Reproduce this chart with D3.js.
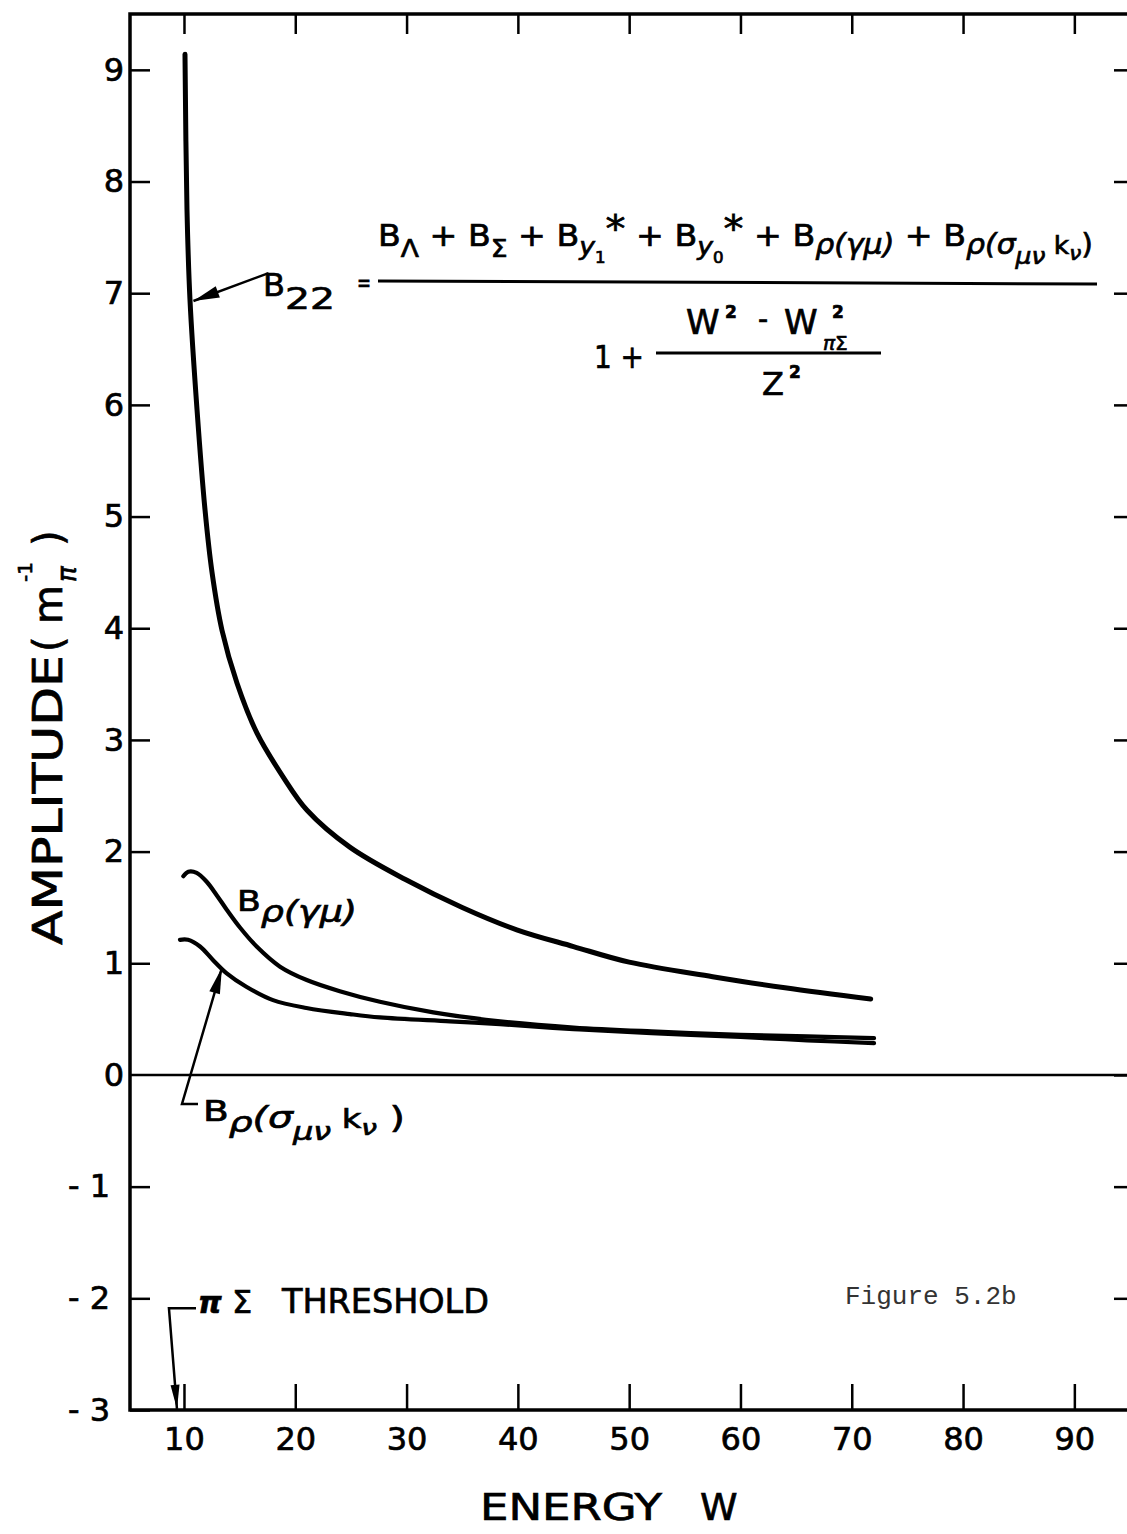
<!DOCTYPE html>
<html>
<head>
<meta charset="utf-8">
<script src="https://cdn.jsdelivr.net/npm/d3@7"></script>
<style>
  body { margin: 0; background: #fff; }
  svg { display: block; }
  text { font-family: "DejaVu Sans", sans-serif; fill: #000; stroke: #000; stroke-width: 0.7px; }
  text.typed { font-family: "Liberation Mono", monospace; fill: #333; stroke: none; }
</style>
</head>
<body>
<div id="chart"></div>
<script>
// tick values
const xTicks = [10, 20, 30, 40, 50, 60, 70, 80, 90];
const yTicks = [-3, -2, -1, 0, 1, 2, 3, 4, 5, 6, 7, 8, 9];

// B22 (energy W, amplitude)
const b22W = [10.09, 10.27, 10.54, 11.17, 11.89, 12.52, 13.42, 14.76, 16.56, 18.9, 21.06, 24.9, 29.9, 35, 39.9, 45, 50, 57.5, 64, 71.7];
const b22A = [9.14, 7.75, 6.94, 5.96, 5.06, 4.5, 3.98, 3.51, 3.06, 2.67, 2.37, 2.04, 1.75, 1.50, 1.30, 1.15, 1.01, 0.88, 0.78, 0.68];

// B rho (gamma mu)
const gmW = [9.94, 10.39, 11.14, 12.04, 12.94, 13.84, 15.03, 16.53, 18.63, 21.03, 24.0, 27.6, 32.4, 38.4, 45, 52, 60, 66, 72];
const gmA = [1.78, 1.82, 1.81, 1.73, 1.61, 1.48, 1.32, 1.15, 0.97, 0.85, 0.75, 0.655, 0.56, 0.48, 0.425, 0.39, 0.36, 0.345, 0.33];

// B rho (sigma_mu_nu k_nu)
const skW = [9.64, 10.36, 11.44, 12.6, 13.84, 15.6, 18.0, 21.0, 24.9, 27.6, 33.9, 38.4, 45, 52, 60, 66, 72];
const skA = [1.21, 1.21, 1.15, 1.03, 0.91, 0.79, 0.67, 0.60, 0.545, 0.515, 0.48, 0.455, 0.41, 0.375, 0.34, 0.31, 0.285];

const margin = { top: 14, left: 130 };
const width = 1000, height = 1396;

const svg = d3.select("#chart").append("svg")
  .attr("width", 1127)
  .attr("height", 1534);

const main = svg.append("g")
  .attr("transform", "translate(" + margin.left + "," + margin.top + ")");

const x = d3.scaleLinear().domain([5.15, 95.0]).range([0, width]);
const y = d3.scaleLinear().domain([-3, 9.5]).range([height, 0]);

const fmt = d => d < 0 ? "- " + Math.abs(d) : String(d);

// axes, ticks pointing inward
const xBottom = main.append("g")
  .attr("transform", "translate(0," + height + ")")
  .call(d3.axisBottom(x).tickValues(xTicks).tickSizeInner(-26).tickSizeOuter(0).tickPadding(17));
const yLeft = main.append("g")
  .call(d3.axisLeft(y).tickValues(yTicks).tickFormat(fmt).tickSizeInner(-20).tickSizeOuter(0).tickPadding(8));
main.append("g")
  .call(d3.axisTop(x).tickValues(xTicks).tickFormat("").tickSizeInner(-20).tickSizeOuter(0));
main.append("g")
  .attr("transform", "translate(" + width + ",0)")
  .call(d3.axisRight(y).tickValues(yTicks.filter(d => d > -3)).tickFormat("").tickSizeInner(-16).tickSizeOuter(0));

main.selectAll(".domain").remove();
main.selectAll(".tick line").attr("stroke", "#000").attr("stroke-width", 2.5);
xBottom.selectAll("text").attr("font-size", 32).attr("font-family", null).attr("fill", null);
yLeft.selectAll("text").attr("font-size", 32).attr("font-family", null).attr("fill", null)
  .attr("x", d => d < 0 ? -20 : -6);
yLeft.selectAll(".tick").filter(d => d === 0).select("line").remove();

// frame
main.append("rect")
  .attr("x", 0).attr("y", 0)
  .attr("width", width).attr("height", height)
  .attr("fill", "none").attr("stroke", "#000").attr("stroke-width", 3.5);

// zero line
main.append("line")
  .attr("x1", 0).attr("x2", width)
  .attr("y1", y(0)).attr("y2", y(0))
  .attr("stroke", "#000").attr("stroke-width", 2.5);

// curves
const line = d3.line()
  .x(d => x(d[0]))
  .y(d => y(d[1]))
  .curve(d3.curveCatmullRom.alpha(0.5));

const series = [
  { w: b22W, a: b22A, sw: 5 },
  { w: gmW, a: gmA, sw: 4.2 },
  { w: skW, a: skA, sw: 4.2 }
];
main.selectAll("path.curve")
  .data(series)
  .enter()
  .append("path")
  .attr("class", "curve")
  .attr("d", s => line(s.w.map((w, i) => [w, s.a[i]])))
  .attr("fill", "none")
  .attr("stroke", "#000")
  .attr("stroke-width", s => s.sw)
  .attr("stroke-linecap", "round")
  .attr("stroke-linejoin", "round");

// leader lines with arrowheads, points in data units
function arrow(pts, len, half) {
  const p = pts.map(d => [x(d[0]), y(d[1])]);
  main.append("path")
    .attr("d", d3.line()(p))
    .attr("fill", "none").attr("stroke", "#000").attr("stroke-width", 2.5);
  const [tx, ty] = p[p.length - 1];
  const [sx, sy] = p[p.length - 2];
  const ang = Math.atan2(ty - sy, tx - sx);
  const bx = tx - len * Math.cos(ang), by = ty - len * Math.sin(ang);
  const nx = -Math.sin(ang) * half, ny = Math.cos(ang) * half;
  main.append("path")
    .attr("d", d3.line()([[tx, ty], [bx + nx, by + ny], [bx - nx, by - ny]]) + "Z")
    .attr("fill", "#000");
}
arrow([[17.6, 7.18], [10.85, 6.93]], 26, 6);
arrow([[11.26, -0.26], [9.82, -0.26], [13.41, 0.96]], 26, 5.5);
arrow([[11.08, -2.09], [8.65, -2.09], [9.37, -2.99]], 24, 4.5);

// rich text helper: parts = [text, scale, baseline offset, italic]
function rich(parent, px, py, parts, base) {
  const t = parent.append("text").attr("x", px).attr("y", py).attr("font-size", base);
  let off = 0;
  parts.forEach(p => {
    const o = p[2] || 0;
    const s = t.append("tspan").text(p[0])
      .attr("font-size", base * (p[1] || 1))
      .attr("dy", o - off);
    if (p[3]) s.attr("font-style", "italic");
    off = o;
  });
  return t;
}
function fit(t, len) {
  return t.attr("textLength", len).attr("lengthAdjust", "spacingAndGlyphs");
}

// formula (page coordinates)
const f = svg.append("g");
fit(rich(f, 263, 296, [["B"]], 32), 22);
fit(rich(f, 285, 309, [["22"]], 30), 50);
fit(rich(f, 357, 291, [["="]], 24), 14);
f.append("line").attr("x1", 378).attr("x2", 1097).attr("y1", 281).attr("y2", 284)
  .attr("stroke", "#000").attr("stroke-width", 3);
fit(rich(f, 378, 246, [
  ["B"], ["Λ", 0.8, 11], [" + B", 1, 0], ["Σ", 0.8, 11], [" + B", 1, 0],
  ["y", 0.8, 9, 1], ["1", 0.5, 17], ["*", 1.2, -4], [" + B", 1, 0],
  ["y", 0.8, 9, 1], ["0", 0.5, 17], ["*", 1.2, -4], [" + B", 1, 0],
  ["ρ(γμ)", 0.9, 8, 1], [" + B", 1, 0], ["ρ(σ", 0.9, 8, 1], ["μν", 0.75, 18, 1],
  [" k", 0.8, 8], ["ν", 0.65, 14, 1], [")", 0.9, 8]
], 31), 715);

fit(rich(f, 594, 368, [["1 +"]], 32), 50);
f.append("line").attr("x1", 656).attr("x2", 881).attr("y1", 353).attr("y2", 353)
  .attr("stroke", "#000").attr("stroke-width", 3);
rich(f, 686, 334, [["W"]], 34);
rich(f, 725, 318, [["2"]], 17).attr("font-weight", "bold");
rich(f, 758, 329, [["-"]], 28);
rich(f, 784, 334, [["W"]], 34);
rich(f, 832, 318, [["2"]], 17).attr("font-weight", "bold");
rich(f, 823, 350, [["π", 1, 0, 1], ["Σ"]], 20);
rich(f, 762, 395, [["Z"]], 32);
rich(f, 789, 378, [["2"]], 17).attr("font-weight", "bold");

// curve labels
fit(rich(svg, 237, 911, [["B"], ["ρ(γμ)", 1.05, 11, 1]], 28), 120);
fit(rich(svg, 203, 1121, [["B"], ["ρ", 1, 11, 1], ["(σ", 1.05, 7, 1], ["μν", 0.85, 19, 1], [" k", 0.9, 7], ["ν", 0.75, 14, 1], [" )", 1.05, 7]], 29), 202);

// threshold label
rich(svg, 198, 1313, [["π", 1, 0, 1]], 30).attr("font-weight", "bold");
rich(svg, 232, 1313, [["Σ"]], 32);
fit(rich(svg, 282, 1313, [["THRESHOLD"]], 34), 207);

// figure number
svg.append("text")
  .attr("class", "typed")
  .attr("x", 845).attr("y", 1304)
  .attr("font-size", 26)
  .text("Figure 5.2b");

// axis titles
fit(svg.append("text").attr("x", 480).attr("y", 1520).attr("font-size", 38).text("ENERGY"), 182);
svg.append("text").attr("x", 700).attr("y", 1520).attr("font-size", 38).text("W");

const yl = svg.append("g").attr("transform", "translate(62,732) rotate(-90)");
fit(yl.append("text").attr("x", -213).attr("y", 0).attr("font-size", 40).text("AMPLITUDE"), 290);
yl.append("text").attr("x", 80).attr("y", 0).attr("font-size", 40).text("(");
yl.append("text").attr("x", 108).attr("y", 0).attr("font-size", 40).text("m");
yl.append("text").attr("x", 150).attr("y", -30).attr("font-size", 20).text("-1");
yl.append("text").attr("x", 150).attr("y", 14).attr("font-size", 26).attr("font-style", "italic").text("π");
yl.append("text").attr("x", 186).attr("y", 0).attr("font-size", 40).text(")");
</script>
</body>
</html>
